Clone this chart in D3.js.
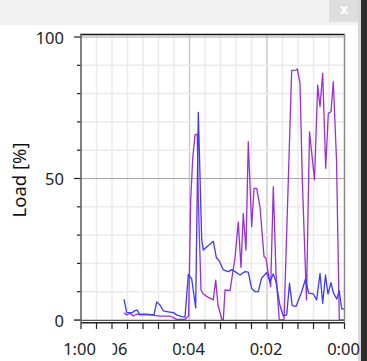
<!DOCTYPE html>
<html>
<head>
<meta charset="utf-8">
<script src="https://cdn.jsdelivr.net/npm/d3@7"></script>
<style>
  body { margin: 0; background: #fff; }
  svg { display: block; font-family: 'Noto Sans', 'Open Sans', sans-serif; }
</style>
</head>
<body>
<svg id="chart" width="367" height="361"></svg>
<script>
// time axis runs backwards (minutes before now)
let blueTimes = [5.690, 5.621, 5.492, 5.406, 5.347, 5.295, 5.105, 4.916, 4.846, 4.761, 4.676, 4.547, 4.418, 4.330, 4.201, 4.116,
  4.031, 3.943, 3.840, 3.773, 3.685, 3.644, 3.386, 3.308, 3.239, 3.128, 2.999, 2.911, 2.826, 2.697, 2.568, 2.483,
  2.395, 2.310, 2.225, 2.142, 2.008, 1.923, 1.837, 1.768, 1.665, 1.579, 1.492, 1.419, 1.350, 1.252, 1.105, 1.006,
  0.924, 0.805, 0.717, 0.632, 0.563, 0.490, 0.426, 0.348, 0.289, 0.201, 0.137, 0.072, 0];
let blueLoad = [7.3, 2.7, 2.5, 3.3, 3.5, 2.1, 2.1, 1.8, 6.4, 5.3, 3.2, 2.9, 2.6, 1.8, 1.2, 1.0,
  16.1, 14.5, 4.3, 73.4, 28.3, 24.7, 27.8, 22.1, 21.0, 17.7, 17.1, 17.8, 17.1, 15.9, 17.1, 16.9,
  11.1, 10.0, 10.0, 14.7, 16.8, 13.5, 16.3, 13.5, 5.1, 1.4, 1.8, 13.0, 5.1, 4.8, 10.0, 14.5,
  9.5, 9.2, 7.1, 16.5, 5.9, 15.9, 9.2, 13.2, 9.7, 7.4, 10.4, 3.9, 3.9];

let purpleTimes = [5.690, 5.621, 5.535, 5.450, 5.363, 5.277, 5.019, 4.761, 4.503, 4.330, 4.116, 4.023, 3.969, 3.917, 3.858, 3.799,
  3.773, 3.703, 3.644, 3.515, 3.386, 3.324, 3.265, 3.161, 3.128, 3.084, 2.955, 2.826, 2.741, 2.671, 2.612, 2.542,
  2.483, 2.395, 2.335, 2.266, 2.181, 2.077, 2.026, 1.966, 1.905, 1.837, 1.768, 1.708, 1.683, 1.561, 1.363, 1.252,
  1.218, 1.148, 1.089, 0.981, 0.903, 0.774, 0.692, 0.632, 0.563, 0.485, 0.418, 0.348, 0.289, 0.206, 0.134, 0];
let purpleLoad = [2.6, 1.8, 2.4, 1.4, 2.1, 1.8, 1.8, 1.4, 1.4, 0.2, 0.2, 1.4, 42.4, 57.1, 65.4, 65.7,
  42.4, 10.6, 9.2, 8.0, 7.1, 14.1, 5.3, 0, 0, 10.6, 10.4, 21.9, 34.6, 18.6, 37.7, 24.7,
  63.0, 33.0, 46.5, 46.5, 40.0, 22.4, 21.8, 16.5, 11.8, 47.1, 16.5, 4.7, 0, 0, 88.2, 88.3,
  88.7, 83.6, 49.5, 7.1, 66.5, 49.5, 83.0, 75.4, 87.2, 53.6, 73.0, 73.6, 84.2, 56.5, 0, 0];

let xLabels = [
  { t: 6, text: '0:06' },
  { t: 4, text: '0:04' },
  { t: 2, text: '0:02' },
  { t: 0, text: '0:00' }
];
let yMajor = [0, 50, 100];

let svg = d3.select('#chart');

function drawChrome () {
  svg.append('rect').attr('x', 0).attr('y', 0).attr('width', 367).attr('height', 25).attr('fill', '#f2f2f2');
  svg.append('rect').attr('x', 329).attr('y', 0).attr('width', 29).attr('height', 22).attr('fill', '#dedede');
  svg.append('text').attr('x', 344).attr('y', 8).attr('text-anchor', 'middle')
    .attr('dominant-baseline', 'central').attr('fill', '#fff')
    .attr('font-size', 14).attr('font-weight', 'bold').text('x');
  svg.append('rect').attr('x', 358).attr('y', 0).attr('width', 3).attr('height', 361).attr('fill', '#d8d8d8');
  svg.append('rect').attr('x', 361).attr('y', 0).attr('width', 6).attr('height', 361).attr('fill', '#2e2e2e');
}

let x = d3.scaleLinear().domain([6.8, 0]).range([81, 344.5]);
let y = d3.scaleLinear().domain([0, 100]).range([320, 37]);

function drawGrid () {
  let g = svg.append('g');
  let xt = d3.range(0, 18).map(i => +(i * 0.4).toFixed(1));
  g.selectAll('.vx').data(xt).enter().append('line')
    .attr('x1', d => x(d)).attr('x2', d => x(d)).attr('y1', 34).attr('y2', 320)
    .attr('stroke', d => (d === 2 || d === 4) ? '#c4c4c4' : '#ebebeb')
    .attr('stroke-width', d => (d === 2 || d === 4) ? 1.3 : 1.5);
  let yt = d3.range(10, 101, 10);
  g.selectAll('.hy').data(yt).enter().append('line')
    .attr('x1', 81).attr('x2', 344.5).attr('y1', d => y(d)).attr('y2', d => y(d))
    .attr('stroke', d => d === 50 ? '#a8a8a8' : (d === 100 ? '#c4c4c4' : '#ebebeb'))
    .attr('stroke-width', d => d === 50 ? 1.2 : 1.5);
}

function drawSeries (times, values, color) {
  let pts = times.map((t, i) => [t, values[i]]);
  let line = d3.line().x(d => x(d[0])).y(d => y(d[1]));
  svg.append('path').datum(pts)
    .attr('d', line)
    .attr('fill', 'none')
    .attr('stroke', color)
    .attr('stroke-width', 1.3)
    .attr('stroke-linejoin', 'round');
}

function drawAxes () {
  let g = svg.append('g');
  // y axis ticks
  let yt = d3.range(0, 101, 10);
  g.selectAll('.yt').data(yt).enter().append('line')
    .attr('x1', d => yMajor.includes(d) ? 74 : 77).attr('x2', 81)
    .attr('y1', d => y(d)).attr('y2', d => y(d))
    .attr('stroke', '#222').attr('stroke-width', 1.2);
  g.selectAll('.yl').data(yMajor).enter().append('text')
    .attr('x', 64).attr('y', d => y(d)).attr('text-anchor', 'end')
    .attr('dominant-baseline', 'central')
    .attr('font-size', 16.5).attr('fill', '#222')
    .text(d => d);

  // zero line, frame
  g.append('line').attr('x1', 74).attr('x2', 344.5).attr('y1', 320.3).attr('y2', 320.3)
    .attr('stroke', '#555').attr('stroke-width', 1.2);
  g.append('line').attr('x1', 81).attr('x2', 345).attr('y1', 322.7).attr('y2', 322.7)
    .attr('stroke', '#222').attr('stroke-width', 1.4);
  g.append('line').attr('x1', 80).attr('x2', 345).attr('y1', 34.5).attr('y2', 34.5)
    .attr('stroke', '#111').attr('stroke-width', 1.3);
  g.append('line').attr('x1', 81).attr('x2', 81).attr('y1', 34).attr('y2', 323)
    .attr('stroke', '#666').attr('stroke-width', 1.6);
  g.append('line').attr('x1', 344.5).attr('x2', 344.5).attr('y1', 34).attr('y2', 323)
    .attr('stroke', '#888').attr('stroke-width', 1.4);

  // x ticks
  let xt = d3.range(0, 18).map(i => +(i * 0.4).toFixed(1));
  g.selectAll('.xt').data(xt).enter().append('line')
    .attr('x1', d => x(d)).attr('x2', d => x(d)).attr('y1', 323).attr('y2', 329)
    .attr('stroke', '#222').attr('stroke-width', 1.2);

  g.selectAll('.xl').data(xLabels).enter().append('text')
    .attr('x', d => x(d.t) - 1).attr('y', 355)
    .attr('text-anchor', 'middle')
    .attr('font-size', 16.5).attr('fill', '#222')
    .text(d => d.text);

  // the left label sits on a white box that hides part of its neighbour
  g.append('rect').attr('x', 50).attr('y', 338).attr('width', 62.5).attr('height', 22).attr('fill', '#fff');
  g.append('text').attr('x', x(6.8) - 1.5).attr('y', 355).attr('text-anchor', 'middle')
    .attr('font-size', 16.5).attr('fill', '#222').text('1:00');

  svg.append('text')
    .attr('transform', 'translate(26,180) rotate(-90)')
    .attr('text-anchor', 'middle')
    .attr('font-size', 18.5).attr('fill', '#111')
    .text('Load [%]');
}

drawChrome();
drawGrid();
drawSeries(purpleTimes, purpleLoad, '#9b2fd6');
drawSeries(blueTimes, blueLoad, '#3b3bf8');
drawAxes();
</script>
</body>
</html>
